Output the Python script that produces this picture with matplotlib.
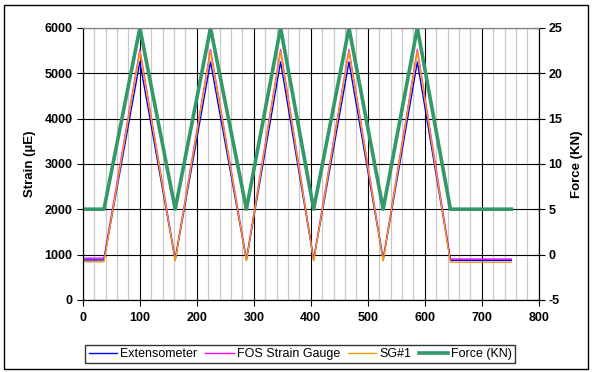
import matplotlib.pyplot as plt
from matplotlib.ticker import MultipleLocator
from matplotlib.patches import Rectangle

plt.rcParams['font.family'] = ['Liberation Sans', 'DejaVu Sans']
plt.rcParams['axes.unicode_minus'] = False

# turning points of the load cycles
time = [0, 37, 100, 162, 224, 287, 347, 405, 467, 527, 587, 645, 752]
extensometer = [880, 880, 5250, 880, 5250, 880, 5250, 880, 5250, 880, 5250, 870, 870]
fos_gauge = [920, 920, 5520, 900, 5520, 900, 5520, 900, 5520, 900, 5520, 900, 900]
sg1 = [840, 840, 5480, 860, 5480, 860, 5480, 860, 5480, 860, 5480, 830, 830]
force = [5, 5, 25, 5, 25, 5, 25, 5, 25, 5, 25, 5, 5]

fig = plt.figure(figsize=(5.92, 3.72), dpi=100)
fig.patches.append(Rectangle((0.007, 0.008), 0.986, 0.978, transform=fig.transFigure,
                             fill=False, edgecolor='black', linewidth=1.0))
ax = fig.add_axes([0.140, 0.194, 0.770, 0.731])
ax2 = ax.twinx()

l1, = ax.plot(time, extensometer, color='#0000ff', lw=1.0, label='Extensometer', zorder=3)
l2, = ax.plot(time, fos_gauge, color='#ff00ff', lw=1.0, label='FOS Strain Gauge', zorder=2)
l3, = ax.plot(time, sg1, color='#ff9900', lw=1.0, label='SG#1', zorder=4)
l4, = ax2.plot(time, force, color='#339966', lw=2.6, label='Force (KN)')

ax.set_xlim(0, 800)
ax.set_ylim(0, 6000)
ax2.set_ylim(-5, 25)
ax.xaxis.set_major_locator(MultipleLocator(100))
ax.xaxis.set_minor_locator(MultipleLocator(20))
ax.yaxis.set_major_locator(MultipleLocator(1000))
ax2.yaxis.set_major_locator(MultipleLocator(5))

ax.grid(which='minor', axis='x', color='#c8c8c8', lw=0.9)
ax.grid(which='major', axis='both', color='black', lw=0.8)
ax.set_axisbelow(True)
ax.tick_params(which='minor', length=0)
ax.tick_params(axis='both', which='major', direction='out', length=4, labelsize=9)
ax.tick_params(axis='x', pad=5)
ax2.tick_params(axis='y', direction='inout', length=8, labelsize=9, pad=3)
for lab in ax.get_xticklabels() + ax.get_yticklabels() + ax2.get_yticklabels():
    lab.set_fontweight('bold')

ax.spines['top'].set_color('#808080')
ax2.spines['top'].set_color('#808080')

ax.set_ylabel('Strain (\u00b5E)', fontsize=9.5, fontweight='bold', labelpad=6)
ax2.set_ylabel('Force (KN)', fontsize=9.5, fontweight='bold', labelpad=6)

fig.legend(handles=[l1, l2, l3, l4], loc='center', bbox_to_anchor=(0.507, 0.048),
           ncol=4, fontsize=9, frameon=True, fancybox=False, edgecolor='black',
           handlelength=2.3, handletextpad=0.25, columnspacing=0.6, borderpad=0.25)

fig.savefig('out.png', dpi=100)
